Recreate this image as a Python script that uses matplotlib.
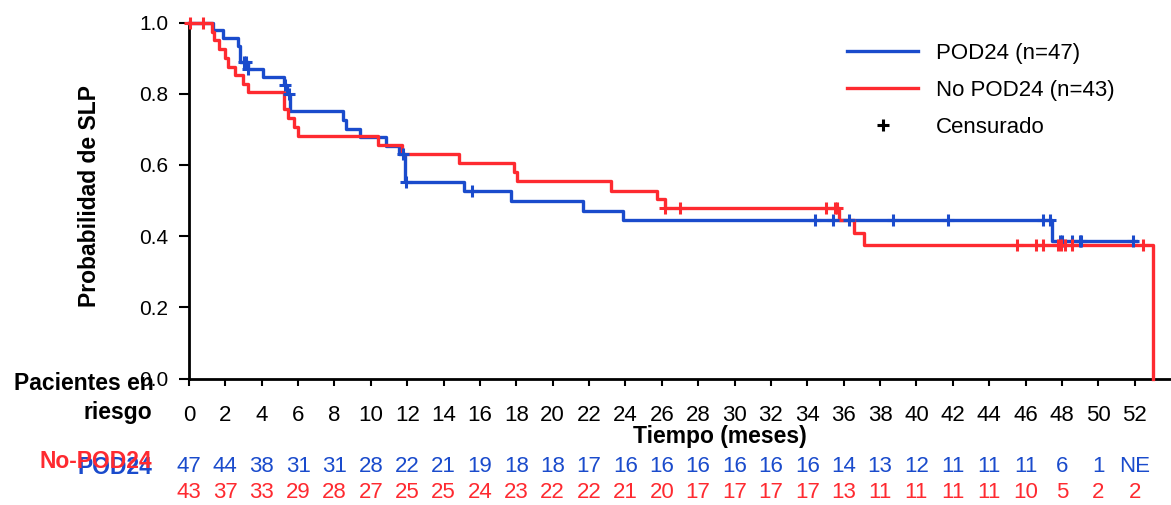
import matplotlib
matplotlib.use("Agg")
import matplotlib.pyplot as plt
import numpy as np
from matplotlib.lines import Line2D

plt.rcParams["font.family"] = ["Liberation Sans", "DejaVu Sans"]

BLUE = "#1a4bcc"
RED = "#fe2a30"

# Kaplan-Meier steps (months, survival probability)
pod24_times = [0, 1.34, 1.89, 2.71, 2.8, 3.22, 4.05, 5.24, 5.41, 5.58, 8.45, 8.63, 9.4,
               10.83, 11.55, 11.9, 15.12, 17.7, 21.64, 23.88, 47.46]
pod24_surv = [1.0, 0.978, 0.956, 0.934, 0.89, 0.869, 0.846, 0.824, 0.80, 0.752, 0.727, 0.702,
              0.678, 0.653, 0.630, 0.552, 0.526, 0.498, 0.471, 0.444, 0.387]
pod24_end = 52.1
pod24_censored = [3.0, 3.15, 3.26, 5.3, 5.52, 11.78, 11.96, 15.54, 34.45, 35.42, 36.3, 38.72,
                  41.74, 46.97, 47.37, 47.88, 48.03, 48.58, 48.98, 49.07, 51.92]

nopod24_times = [0, 1.25, 1.38, 1.65, 1.97, 2.15, 2.53, 2.95, 3.23, 5.22, 5.46, 5.77, 5.97,
                 10.4, 11.7, 14.85, 17.88, 18.05, 23.23, 25.72, 26.17, 35.75, 36.58, 37.1, 53.0]
nopod24_surv = [1.0, 0.974, 0.951, 0.925, 0.899, 0.876, 0.853, 0.828, 0.804, 0.758, 0.733,
                0.707, 0.681, 0.655, 0.630, 0.605, 0.580, 0.554, 0.528, 0.504, 0.479, 0.444,
                0.409, 0.375, 0.0]
nopod24_end = 53.0
nopod24_censored = [0.05, 0.79, 26.2, 27.0, 35.05, 35.5, 35.64, 45.55, 46.56, 46.97, 47.79,
                    47.97, 48.16, 48.58, 52.47]

# Patients at risk every two months
risk_times = list(range(0, 53, 2))
pod24_risk = ["47", "44", "38", "31", "31", "28", "22", "21", "19", "18", "18", "17", "16",
              "16", "16", "16", "16", "16", "14", "13", "12", "11", "11", "11", "6", "1", "NE"]
nopod24_risk = ["43", "37", "33", "29", "28", "27", "25", "25", "24", "23", "22", "22", "21",
                "20", "17", "17", "17", "17", "13", "11", "11", "11", "11", "10", "5", "2", "2"]


def surv_at(times, surv, t):
    idx = np.searchsorted(times, t, side="right") - 1
    return np.asarray(surv)[idx]


W, H = 1171, 505
fig = plt.figure(figsize=(W / 100, H / 100), dpi=100)
ax = fig.add_axes([189 / W, (H - 378.5) / H, (W - 189) / W, (378.5 - 22.5) / H])

for times, surv, end, cens, color in [
    (pod24_times, pod24_surv, pod24_end, pod24_censored, BLUE),
    (nopod24_times, nopod24_surv, nopod24_end, nopod24_censored, RED),
]:
    ax.step(times + [end], surv + [surv[-1]], where="post", color=color, lw=2.4,
            clip_on=False, zorder=3)
    ax.plot(cens, surv_at(times, surv, cens), linestyle="none", marker="+", ms=8, mew=2.2,
            color=color, clip_on=False, zorder=4)

ax.set_xlim(0, 54)
ax.set_ylim(0, 1)
ax.set_xticks(risk_times)
ax.set_yticks([0, 0.2, 0.4, 0.6, 0.8, 1.0])
ax.set_yticklabels(["0.0", "0.2", "0.4", "0.6", "0.8", "1.0"], fontsize=15)
ax.set_xticklabels([str(t) for t in risk_times], fontsize=16)
ax.tick_params(axis="y", length=7, width=1.5, pad=8)
ax.tick_params(axis="x", length=5, width=1.5, pad=14)
for side in ["top", "right"]:
    ax.spines[side].set_visible(False)
for side in ["left", "bottom"]:
    ax.spines[side].set_linewidth(2.0)

bold = dict(fontsize=16.5, fontweight="bold", va="center")
fig.text(90 / W, 1 - 196 / H, "Probabilidad de SLP", rotation=90, ha="center", **bold)
fig.text(720 / W, 1 - 436 / H, "Tiempo (meses)", ha="center", **bold)
fig.text(154 / W, 1 - 384 / H, "Pacientes en", ha="right", **bold)
fig.text(152 / W, 1 - 412 / H, "riesgo", ha="right", **bold)
fig.text(152 / W, 1 - 467 / H, "POD24", color=BLUE, ha="right", **bold)
fig.text(152 / W, 1 - 461 / H, "No-POD24", color=RED, ha="right", **bold)

# risk table below the axis
row_tr = ax.get_xaxis_transform()
for t, b, r in zip(risk_times, pod24_risk, nopod24_risk):
    ax.text(t, (378.5 - 467) / 356, b, transform=row_tr, color=BLUE, fontsize=16,
            ha="center", va="center", clip_on=False)
    ax.text(t, (378.5 - 493) / 356, r, transform=row_tr, color=RED, fontsize=16,
            ha="center", va="center", clip_on=False)

handles = [
    Line2D([], [], color=BLUE, lw=2.4),
    Line2D([], [], color=RED, lw=2.4),
    Line2D([], [], color="black", linestyle="none", marker="+", ms=8, mew=2.2),
]
ax.legend(handles, ["POD24 (n=47)", "No POD24 (n=43)", "Censurado"], loc="upper left",
          bbox_to_anchor=(847 / W, 1 - 43 / H), bbox_transform=fig.transFigure,
          frameon=False, fontsize=16, handlelength=3.2, handletextpad=0.8,
          labelspacing=0.72, borderpad=0, borderaxespad=0)

fig.savefig("out.png", dpi=100)
